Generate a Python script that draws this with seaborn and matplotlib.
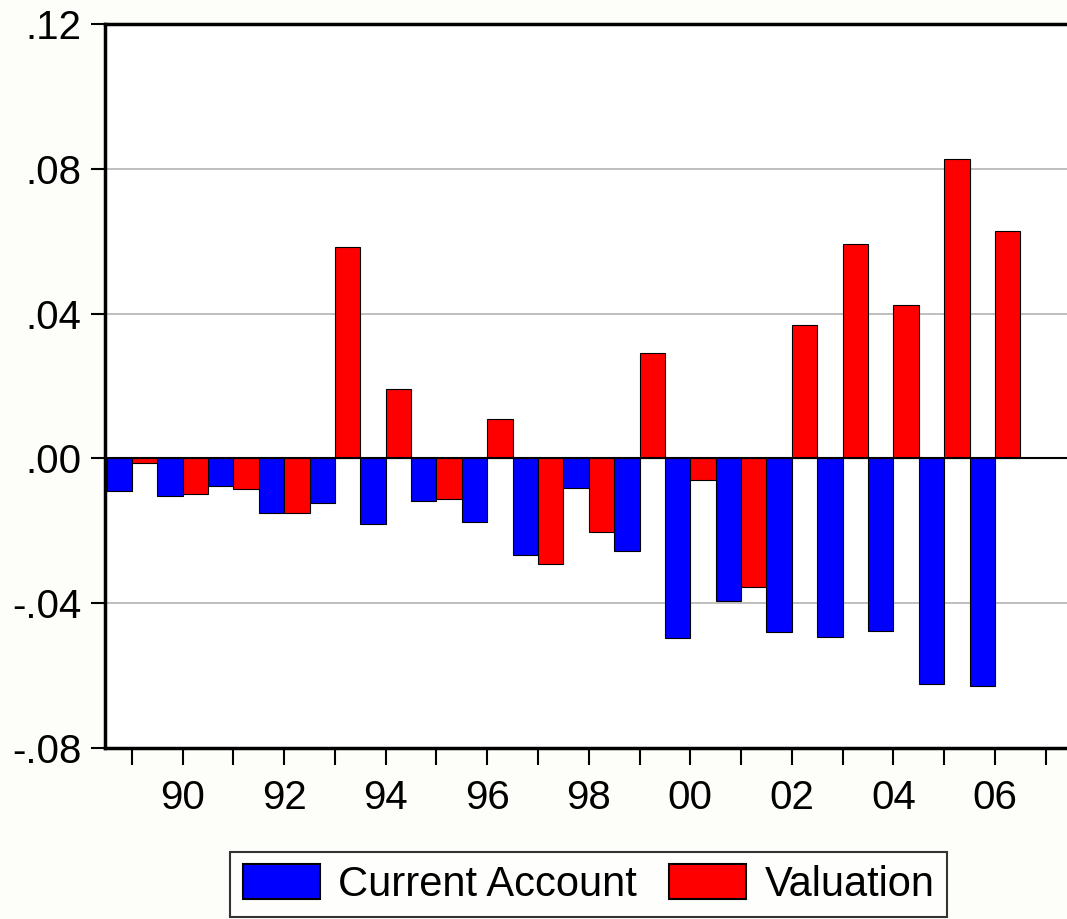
import pandas as pd
import matplotlib.pyplot as plt
import seaborn as sns

# values (share of GDP)
years = list(range(1989, 2007))
current_account = [-0.0089, -0.0104, -0.0077, -0.0152, -0.0122, -0.0180, -0.0117, -0.0176, -0.0266,
                   -0.0081, -0.0255, -0.0496, -0.0394, -0.0480, -0.0492, -0.0476, -0.0623, -0.0630]
valuation = [-0.0014, -0.0098, -0.0084, -0.0150, 0.0585, 0.0193, -0.0113, 0.0108, -0.0291,
             -0.0203, 0.0292, -0.0059, -0.0354, 0.0368, 0.0593, 0.0424, 0.0827, 0.0629]
series_names = ['Current Account', 'Valuation']
y_ticks = [-0.08, -0.04, 0.0, 0.04, 0.08, 0.12]
y_labels = ['-.08', '-.04', '.00', '.04', '.08', '.12']

sns.set_theme(style='white')
plt.rcParams['font.family'] = ['Liberation Sans', 'DejaVu Sans']
plt.rcParams['font.size'] = 29
plt.rcParams['text.color'] = 'black'

df = pd.DataFrame({
    'year': [str(y) for y in years] * 2,
    'value': current_account + valuation,
    'series': [series_names[0]] * len(years) + [series_names[1]] * len(years),
})

fig = plt.figure(figsize=(10.67, 9.19), dpi=100, facecolor='#fdfdf9')
ax = fig.add_axes([105 / 1067, 171 / 919, 962 / 1067, 724 / 919])
ax.set_facecolor('white')

sns.barplot(data=df, x='year', y='value', hue='series',
            palette={'Current Account': '#0000ff', 'Valuation': '#ff0000'},
            width=1.0, saturation=1, edgecolor='black', linewidth=0.8,
            legend=False, ax=ax)

ax.axhline(0, color='black', lw=1.5, zorder=5)
ax.yaxis.grid(True, color='#b4b4b4', lw=1.2)
ax.set_axisbelow(True)

# x axis: one tick per year, label every second one
ax.set_xlim(-0.53, 18.42)
tick_pos = list(range(len(years) + 1))
tick_lab = []
for i in tick_pos:
    y = 1989 + i
    tick_lab.append(f'{y % 100:02d}' if y % 2 == 0 and y <= 2006 else '')
ax.set_xticks(tick_pos)
ax.set_xticklabels(tick_lab, fontsize=29)

ax.set_ylim(-0.08, 0.12)
ax.set_yticks(y_ticks)
ax.set_yticklabels(y_labels, fontsize=29)

ax.tick_params(axis='x', direction='out', length=12, width=1.5, pad=10, colors='black', bottom=True)
ax.tick_params(axis='y', direction='out', length=10, width=1.5, pad=7, colors='black', left=True)
ax.set_xlabel('')
ax.set_ylabel('')

for side in ['left', 'top', 'bottom']:
    ax.spines[side].set_color('black')
    ax.spines[side].set_linewidth(2.5)
ax.spines['right'].set_visible(False)

handles = [plt.Rectangle((0, 0), 1, 1, facecolor=c, edgecolor='black', lw=1.5)
           for c in ['#0000ff', '#ff0000']]
leg = fig.legend(handles, series_names, loc='center', bbox_to_anchor=(588.5 / 1067, 1 - 884.5 / 919),
                 ncol=2, fontsize=30, frameon=True, fancybox=False, shadow=False,
                 handlelength=1.85, handleheight=0.9, handletextpad=0.45, columnspacing=0.75,
                 borderpad=0.3, borderaxespad=0, labelcolor='black')
leg.get_frame().set_edgecolor('black')
leg.get_frame().set_linewidth(1.5)
leg.get_frame().set_facecolor('white')

fig.savefig('out.png', dpi=100, facecolor=fig.get_facecolor())
